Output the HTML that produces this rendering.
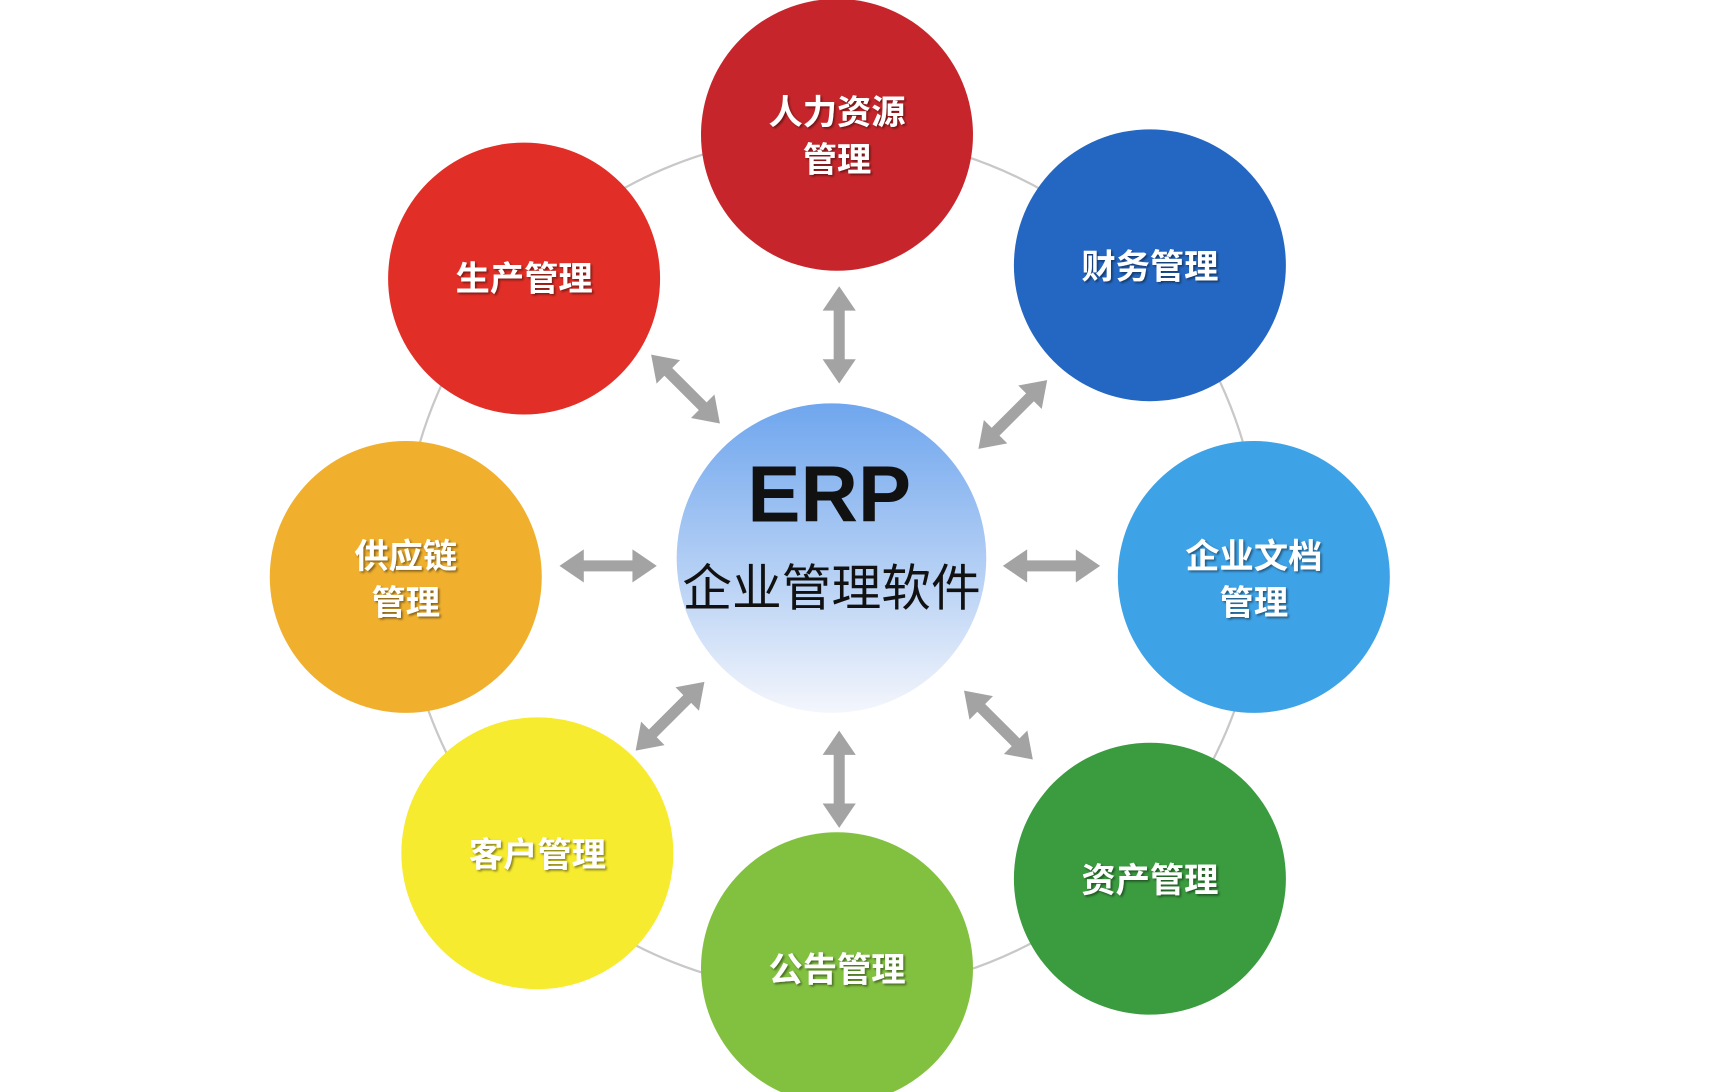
<!DOCTYPE html>
<html><head><meta charset="utf-8"><style>
html,body{margin:0;padding:0;background:#fff;}
svg{display:block;}
.t{font-family:"Liberation Sans","Noto Sans CJK SC",sans-serif;font-weight:bold;fill:#fff;font-size:31px;text-anchor:middle;}
</style></head><body>
<svg width="1716" height="1092" viewBox="0 0 1552 988" preserveAspectRatio="none" xmlns="http://www.w3.org/2000/svg">
<defs>
<linearGradient id="gcl" x1="0" y1="0" x2="0" y2="1">
<stop offset="0" stop-color="#6fa6ee"/><stop offset="0.6" stop-color="#bcd4f5"/><stop offset="1" stop-color="#f4f6fc"/>
</linearGradient>
<filter id="sh"><feDropShadow dx="1.5" dy="1.5" stdDeviation="1" flood-color="#000" flood-opacity="0.45"/></filter>
<polygon id="ar" points="-44,0 -22,-15 -22,-5 22,-5 22,-15 44,0 22,15 22,5 -22,5 -22,15" fill="#a3a3a3"/>
</defs>
<rect width="1552" height="988" fill="#fff"/>
<g transform="translate(-6,0)">
<circle cx="758" cy="510" r="388" fill="none" stroke="#c8c8c8" stroke-width="2"/>
<circle cx="763" cy="122" r="123" fill="#c6262b"/>
<circle cx="480" cy="252" r="123" fill="#e12f27"/>
<circle cx="1046" cy="240" r="123" fill="#2467c2"/>
<circle cx="373" cy="522" r="123" fill="#f0b02e"/>
<circle cx="1140" cy="522" r="123" fill="#3ea2e6"/>
<circle cx="492" cy="772" r="123" fill="#f6eb2f"/>
<circle cx="1046" cy="795" r="123" fill="#3a9b3f"/>
<circle cx="763" cy="876" r="123" fill="#82c140"/>
<circle cx="758" cy="505" r="140" fill="url(#gcl)"/>
<use href="#ar" transform="translate(765,303) rotate(90)"/>
<use href="#ar" transform="translate(765,705) rotate(90)"/>
<use href="#ar" transform="translate(556,512)"/>
<use href="#ar" transform="translate(957,512)"/>
<use href="#ar" transform="translate(626,352) rotate(45)"/>
<use href="#ar" transform="translate(922,375) rotate(-45)"/>
<use href="#ar" transform="translate(612,648) rotate(-45)"/>
<use href="#ar" transform="translate(909,656) rotate(45)"/>
<g filter="url(#sh)">
<text class="t" x="763" y="112">人力资源</text>
<text class="t" x="763" y="155">管理</text>
<text class="t" x="480" y="263">生产管理</text>
<text class="t" x="1046" y="252">财务管理</text>
<text class="t" x="373" y="514">供应链</text>
<text class="t" x="373" y="556">管理</text>
<text class="t" x="1140" y="514">企业文档</text>
<text class="t" x="1140" y="556">管理</text>
<text class="t" x="492" y="784">客户管理</text>
<text class="t" x="1046" y="807">资产管理</text>
<text class="t" x="763" y="888">公告管理</text>
</g>
<text x="756" y="472" font-family="Liberation Sans,sans-serif" font-weight="bold" font-size="72" text-anchor="middle" fill="#111">ERP</text>
<text x="758" y="548" font-family="Liberation Sans,Noto Sans CJK SC,sans-serif" font-size="45" text-anchor="middle" fill="#111">企业管理软件</text>
</g>
</svg>
</body></html>
